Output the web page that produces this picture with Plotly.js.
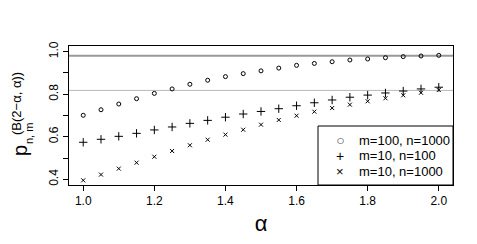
<!DOCTYPE html>
<html><head><meta charset="utf-8">
<script src="https://cdn.plot.ly/plotly-3.0.1.min.js"></script>
<style>html,body{margin:0;padding:0;background:#fff;}#chart{width:477px;height:244px;}</style>
</head><body><div id="chart"></div>
<script>
const alpha = [1.00,1.05,1.10,1.15,1.20,1.25,1.30,1.35,1.40,1.45,1.50,1.55,1.60,1.65,1.70,1.75,1.80,1.85,1.90,1.95,2.00];
const pM100N1000 = [0.701,0.727,0.754,0.779,0.804,0.825,0.847,0.866,0.883,0.897,0.910,0.923,0.936,0.945,0.953,0.961,0.966,0.972,0.977,0.980,0.983];
const pM10N100 = [0.574,0.588,0.602,0.616,0.632,0.646,0.663,0.677,0.692,0.707,0.719,0.732,0.746,0.760,0.773,0.786,0.796,0.806,0.815,0.825,0.833];
const pM10N1000 = [0.395,0.422,0.450,0.478,0.506,0.533,0.560,0.586,0.610,0.633,0.657,0.679,0.699,0.718,0.735,0.751,0.767,0.781,0.795,0.807,0.820];
const seriesNames = ['m=100, n=1000','m=10, n=100','m=10, n=1000'];
const legendGlyphs = ['○','+','×'];
const hlineValues = [0.981, 0.818];
const xTickVals = [1.0,1.2,1.4,1.6,1.8,2.0];
const xTickText = ['1.0','1.2','1.4','1.6','1.8','2.0'];
const yTickVals = [0.4,0.5,0.6,0.7,0.8,0.9,1.0];
const yTickText = ['0.4','','0.6','','0.8','','1.0'];

const FONT = 'Liberation Sans, Arial, Helvetica, sans-serif';
const W = 477, H = 244, ML = 69, MR = 24, MT = 46, MB = 59;
const PW = W - ML - MR, PH = H - MT - MB;
const px = v => (v - ML) / PW;
const py = v => (H - MB - v) / PH;

const markerStyles = [
  {symbol: 'circle-open', size: 4},
  {symbol: 'cross-thin-open', size: 6},
  {symbol: 'x-thin-open', size: 4}
];
const seriesY = [pM100N1000, pM10N100, pM10N1000];
const traces = seriesY.map((ys, i) => ({
  x: alpha, y: ys, name: seriesNames[i], mode: 'markers', type: 'scatter',
  marker: {symbol: markerStyles[i].symbol, size: markerStyles[i].size, color: '#000',
           line: {width: 1, color: '#000'}}
}));

const legendRowsY = [140, 155.5, 171];
const glyphFonts = [
  {family: 'DejaVu Sans', size: 8, color: '#000'},
  {family: 'Liberation Sans', size: 14, color: '#000'},
  {family: 'Liberation Sans', size: 13, color: '#000'}
];
const annotations = [
  {text: 'p', xref: 'paper', yref: 'paper', x: px(20), y: py(151), showarrow: false,
   textangle: -90, font: {size: 20, color: '#000'}, xanchor: 'center', yanchor: 'middle'},
  {text: 'n, m', xref: 'paper', yref: 'paper', x: px(29), y: py(134), showarrow: false,
   textangle: -90, font: {size: 11, color: '#000'}, xanchor: 'center', yanchor: 'middle'},
  {text: '(B(2−α, α))', xref: 'paper', yref: 'paper', x: px(16), y: py(104), showarrow: false,
   textangle: -90, font: {size: 13, color: '#000'}, xanchor: 'center', yanchor: 'middle'}
];
seriesNames.forEach((nm, i) => {
  annotations.push({text: legendGlyphs[i], xref: 'paper', yref: 'paper', x: px(340), y: py(legendRowsY[i]),
    showarrow: false, xanchor: 'center', yanchor: 'middle', font: glyphFonts[i]});
  annotations.push({text: nm, xref: 'paper', yref: 'paper', x: px(357), y: py(legendRowsY[i]),
    showarrow: false, xanchor: 'left', yanchor: 'middle', font: {size: 13, color: '#000'}});
});

const layout = {
  width: W, height: H,
  margin: {l: ML, r: MR, t: MT, b: MB},
  paper_bgcolor: '#fff', plot_bgcolor: '#fff',
  font: {family: FONT, size: 12, color: '#000'},
  showlegend: false,
  xaxis: {range: [0.96, 2.04], tickvals: xTickVals, ticktext: xTickText, ticks: 'outside', ticklen: 5,
          tickcolor: '#000', showgrid: false, zeroline: false, showline: true, linecolor: '#000',
          linewidth: 1, mirror: true, tickfont: {size: 12, color: '#000'},
          title: {text: 'α', font: {size: 22, color: '#000'}, standoff: 8}},
  yaxis: {range: [0.373, 1.027], tickvals: yTickVals, ticktext: yTickText, ticks: 'outside', ticklen: 5,
          tickcolor: '#000', tickangle: -90, showgrid: false, zeroline: false, showline: true,
          linecolor: '#000', linewidth: 1, mirror: true, tickfont: {size: 12, color: '#000'}},
  shapes: [
    {type: 'line', xref: 'paper', x0: 0, x1: 1, yref: 'y', y0: hlineValues[0], y1: hlineValues[0],
     line: {color: '#999999', width: 2}, layer: 'below'},
    {type: 'line', xref: 'paper', x0: 0, x1: 1, yref: 'y', y0: hlineValues[1], y1: hlineValues[1],
     line: {color: '#b8b8b8', width: 1}, layer: 'below'},
    {type: 'rect', xref: 'paper', yref: 'paper', x0: px(318), x1: 1, y0: 0, y1: py(126),
     fillcolor: '#fff', line: {color: '#000', width: 1}, layer: 'above'}
  ],
  annotations: annotations
};
Plotly.newPlot('chart', traces, layout, {displayModeBar: false, staticPlot: true});
</script></body></html>
